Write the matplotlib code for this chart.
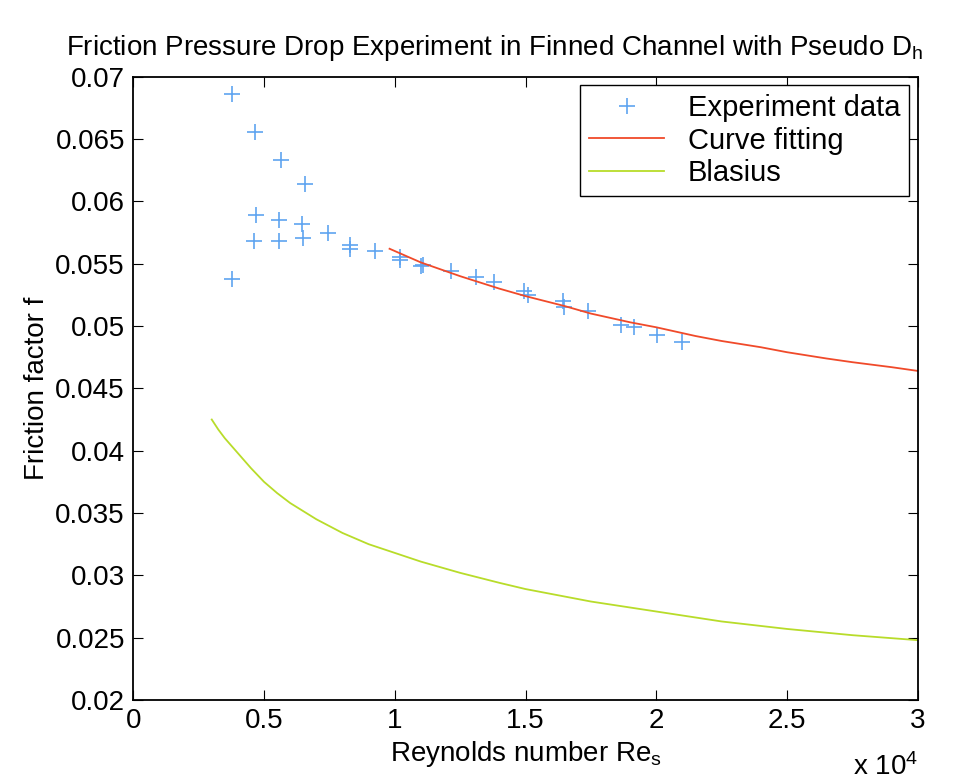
import numpy as np
from matplotlib import pyplot as plt

plt.rcParams['font.family'] = ['Liberation Sans', 'DejaVu Sans']
plt.rcParams['mathtext.fontset'] = 'custom'
plt.rcParams['mathtext.rm'] = 'Liberation Sans'
plt.rcParams['mathtext.it'] = 'Liberation Sans'

# experiment data (Re, f)
re_exp = [3774, 3774, 4665, 4690, 4601, 5642, 5555, 5555, 6570, 6470, 6507,
          7434, 8284, 8284, 9237, 10190, 10190, 11018, 11083, 12162, 13115,
          13813, 14956, 15100, 16420, 16480, 17374, 18643, 19150, 20042, 20995]
f_exp = [0.0686, 0.0538, 0.0656, 0.0589, 0.0568, 0.0633, 0.0585, 0.0568, 0.0614,
         0.0582, 0.0571, 0.0575, 0.0565, 0.0562, 0.0560, 0.0555, 0.0553, 0.0548,
         0.0549, 0.0544, 0.0539, 0.0535, 0.0528, 0.0525, 0.0520, 0.0515, 0.0512,
         0.0501, 0.0499, 0.0493, 0.0487]

# curve fitting line
re_fit = [9800, 11000, 12500, 14000, 15000, 16500, 17500, 19000, 20000, 21500,
          22500, 24000, 25000, 26500, 27500, 29000, 30000]
f_fit = [0.0562, 0.0551, 0.0540, 0.0530, 0.0524, 0.0516, 0.0510, 0.0503, 0.0499,
         0.0492, 0.0488, 0.0483, 0.0479, 0.0474, 0.0471, 0.0467, 0.0464]

# Blasius line
re_bla = [3000, 3250, 3500, 3750, 4000, 4500, 5000, 5500, 6000, 7000, 8000, 9000,
          10000, 11000, 12500, 14000, 15000, 17500, 20000, 22500, 25000, 27500, 30000]
f_bla = [0.0425, 0.0417, 0.0410, 0.0404, 0.0398, 0.0386, 0.0375, 0.0366, 0.0358,
         0.0345, 0.0334, 0.0325, 0.0318, 0.0311, 0.0302, 0.0294, 0.0289, 0.0279,
         0.0271, 0.0263, 0.0257, 0.0252, 0.0248]

xticks = [0, 5000, 10000, 15000, 20000, 25000, 30000]
xtick_labels = ['0', '0.5', '1', '1.5', '2', '2.5', '3']
yticks = [0.02, 0.025, 0.03, 0.035, 0.04, 0.045, 0.05, 0.055, 0.06, 0.065, 0.07]
ytick_labels = ['0.02', '0.025', '0.03', '0.035', '0.04', '0.045', '0.05',
                '0.055', '0.06', '0.065', '0.07']

fig = plt.figure(figsize=(9.59, 7.83), dpi=100)
ax = fig.add_axes([0.139, 0.106, 0.818, 0.796])

ax.plot(re_exp, f_exp, '+', color='#5fa4f0', markersize=11, markeredgewidth=1.2,
        label='Experiment data')
ax.plot(re_fit, f_fit, '-', color='#f04a2a', linewidth=1.3, label='Curve fitting')
ax.plot(re_bla, f_bla, '-', color='#b8dc2a', linewidth=1.3, label='Blasius')

ax.set_xlim(0, 30000)
ax.set_ylim(0.02, 0.07)
ax.set_xticks(xticks)
ax.set_xticklabels(xtick_labels)
ax.set_yticks(yticks)
ax.set_yticklabels(ytick_labels)
ax.tick_params(direction='in', top=True, right=True, labelsize=20, length=7)
ax.tick_params(axis='x', pad=6)
ax.tick_params(axis='y', pad=6)
for s in ax.spines.values():
    s.set_linewidth(1.3)

ax.text(1.0, -0.085, r'x 10$^4$', transform=ax.transAxes, ha='right', va='top',
        fontsize=20)
ax.set_xlabel(r'Reynolds number Re$_\mathrm{s}$', fontsize=20, labelpad=3)
ax.set_ylabel('Friction factor f', fontsize=20, labelpad=4)
ax.set_title(r'Friction Pressure Drop Experiment in Finned Channel with Pseudo D$_\mathrm{h}$',
             fontsize=20, pad=16, x=0.46)

leg = ax.legend(loc='upper right', fontsize=21, fancybox=False, framealpha=1,
                edgecolor='black', handlelength=2.6, borderaxespad=0.3,
                labelspacing=0.15, borderpad=0.3)
leg.get_frame().set_linewidth(1.0)

plt.savefig('out.png', dpi=100)
